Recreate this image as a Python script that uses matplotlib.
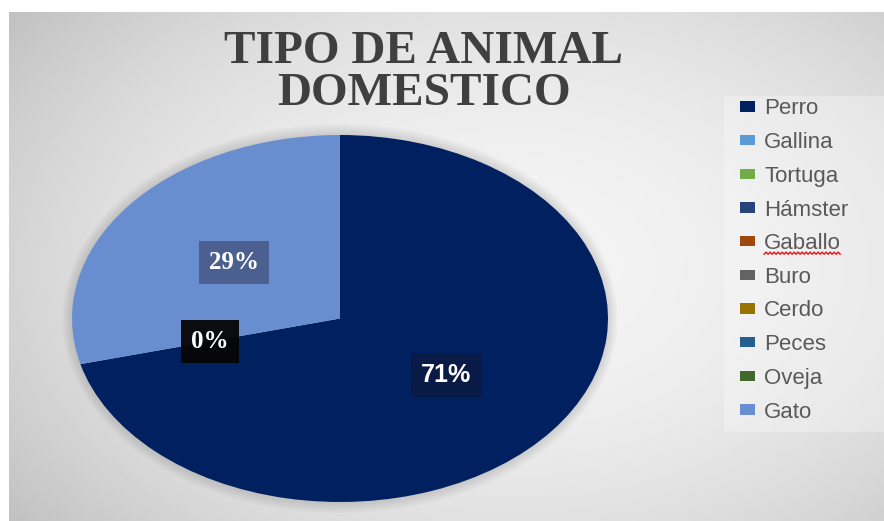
import matplotlib
matplotlib.use("Agg")
import matplotlib.pyplot as plt
import numpy as np
from matplotlib.lines import Line2D
from matplotlib.patches import Rectangle, Ellipse

# data
animals = ["Perro", "Gallina", "Tortuga", "Hámster", "Gaballo",
           "Buro", "Cerdo", "Peces", "Oveja", "Gato"]
shares = [71, 0, 0, 0, 0, 0, 0, 0, 0, 29]
colors = ["#002060", "#5B9BD5", "#70AD47", "#264478", "#9E480E",
          "#636363", "#997300", "#255E91", "#43682B", "#698ED0"]
title = "TIPO DE ANIMAL\nDOMESTICO"

W, H = 884, 521
fig = plt.figure(figsize=(W / 100, H / 100), dpi=100)
fig.patch.set_facecolor("white")

# chart area with soft radial gradient
bg = fig.add_axes([9 / W, 0, 1 - 9 / W, (H - 12) / H])
yy, xx = np.mgrid[0:1:300j, 0:1:500j]
r2 = ((xx - 0.58) / 0.75) ** 2 + ((yy - 0.5) / 0.85) ** 2
grey = np.clip(0.955 - 0.21 * r2, 0.74, 0.955)
bg.imshow(grey, cmap="gray", vmin=0, vmax=1, aspect="auto",
          extent=(0, 1, 0, 1), origin="lower", interpolation="bilinear")
bg.set_axis_off()

# lighter panel behind the legend
fig.add_artist(Rectangle((724 / W, (H - 432) / H), (W - 724) / W, 336 / H,
                         transform=fig.transFigure, facecolor="white",
                         edgecolor="none", alpha=0.28))

fig.text(424 / W, 1 - 73 / H, title, ha="center", va="center",
         fontsize=34, fontweight="bold", family="Liberation Serif",
         color="#3f3f3f", linespacing=1.02)

# elliptical pie (source image is stretched horizontally)
ax = fig.add_axes([72 / W, (H - 502) / H, 536 / W, 367 / H])
for k in range(6):
    ax.add_patch(Ellipse((0, 0), 2 + 0.012 * (k + 1), 2 + 0.02 * (k + 1),
                         facecolor="black", edgecolor="none", alpha=0.02,
                         clip_on=False, zorder=0))
wedges, _ = ax.pie(shares, colors=colors, startangle=90, counterclock=False,
                   wedgeprops=dict(linewidth=0))
ax.set_aspect("auto")
ax.set_xlim(-1, 1)
ax.set_ylim(-1, 1)
for w in wedges:
    w.set_clip_on(False)
    w.set_zorder(2)

# data labels
box_colors = {71: "#0b1a45", 29: "#4a5e8e", 0: "#050505"}
label_fonts = {71: "Liberation Sans", 29: "Liberation Serif", 0: "Liberation Serif"}
done_zero = False
for w, val in zip(wedges, shares):
    if val == 0:
        if done_zero:
            continue
        done_zero = True
    mid = np.deg2rad((w.theta1 + w.theta2) / 2)
    ax.text(0.5 * np.cos(mid), 0.5 * np.sin(mid), f"{val}%",
            ha="center", va="center", fontsize=18, fontweight="bold",
            family=label_fonts[val], color="white", zorder=3,
            bbox=dict(boxstyle="square,pad=0.4", facecolor=box_colors[val],
                      edgecolor="none", alpha=0.95))

leg = fig.legend(wedges, animals, loc="center left",
                 bbox_to_anchor=(729 / W, 0.5),
                 prop={"family": "Liberation Sans", "size": 16},
                 handlelength=0.68, handleheight=0.33, handletextpad=0.4,
                 labelspacing=0.57, borderpad=0.5, borderaxespad=0,
                 frameon=False)
for t in leg.get_texts():
    t.set_color("#595959")

# red spell-check squiggle under "Gaballo"
fig.canvas.draw()
bb = leg.get_texts()[4].get_window_extent()
xs = np.arange(bb.x0, bb.x1, 2.0)
ys = bb.y0 + np.where(np.arange(len(xs)) % 2 == 0, 0, 2.0)
fig.add_artist(Line2D(xs / W, ys / H, transform=fig.transFigure,
                      color="#e02020", linewidth=1.1))

fig.savefig("out.png", dpi=100)
